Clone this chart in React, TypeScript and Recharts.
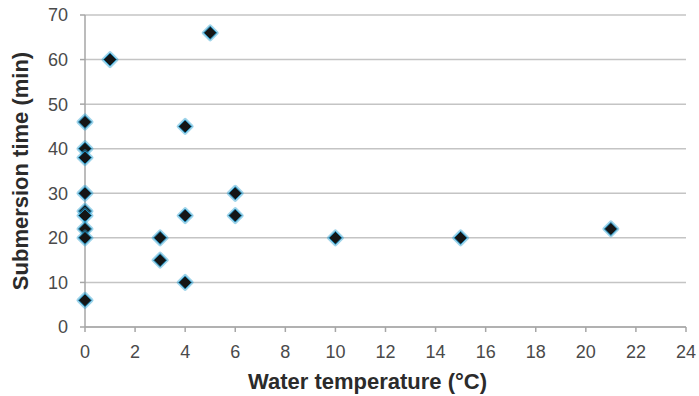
import { ScatterChart, Scatter, XAxis, YAxis, CartesianGrid, Label } from 'recharts';

// water temperature (°C) and submersion time (min) for each case
const temps = [0, 0, 0, 0, 0, 0, 0, 0, 0, 1, 3, 3, 4, 4, 4, 5, 6, 6, 10, 15, 21];
const times = [46, 40, 38, 30, 26, 25, 22, 20, 6, 60, 20, 15, 45, 25, 10, 66, 30, 25, 20, 20, 22];

const xTicks = [0, 2, 4, 6, 8, 10, 12, 14, 16, 18, 20, 22, 24];
const yTicks = [0, 10, 20, 30, 40, 50, 60, 70];

const data = temps.map((t, i) => ({ temp: t, time: times[i] }));

const tickStyle = { fontFamily: 'Liberation Sans, Arial, sans-serif', fontSize: 18, fill: '#4a4a4a' };
const titleStyle = { fontFamily: 'Liberation Sans, Arial, sans-serif', fontSize: 22, fontWeight: 'bold', fill: '#2b2b2b' };

function Diamond(props) {
    const { cx, cy } = props;
    const r = 6.5;
    const d = `M${cx},${cy - r}L${cx + r},${cy}L${cx},${cy + r}L${cx - r},${cy}Z`;
    return (
        <g>
            <path d={d} fill="none" stroke="#2a9fd0" strokeWidth={4} strokeOpacity={0.45} strokeLinejoin="round" />
            <path d={d} fill="#151515" stroke="#1f8fc0" strokeWidth={1} strokeLinejoin="round" />
        </g>
    );
}

export default function App() {
    return (
        <div style={{ position: 'absolute', left: 0, top: 0, width: 699, height: 396, background: '#fff' }}>
            <ScatterChart width={699} height={396} margin={{ top: 15, right: 13, bottom: 19, left: 25 }}>
                <CartesianGrid vertical={false} stroke="#c4c4c4" strokeWidth={1.5} />
                <XAxis
                    type="number"
                    dataKey="temp"
                    domain={[0, 24]}
                    ticks={xTicks}
                    interval={0}
                    height={50}
                    stroke="#a6a6a6"
                    strokeWidth={1.5}
                    tickSize={5}
                    tickMargin={13}
                    tick={tickStyle}
                >
                    <Label
                        value="Water temperature (°C)"
                        position="insideBottom"
                        offset={-12}
                        dx={-18}
                        style={titleStyle}
                    />
                </XAxis>
                <YAxis
                    type="number"
                    dataKey="time"
                    domain={[0, 70]}
                    ticks={yTicks}
                    interval={0}
                    width={60}
                    stroke="#a6a6a6"
                    strokeWidth={1.5}
                    tickSize={5}
                    tickMargin={12}
                    tick={tickStyle}
                >
                    <Label
                        value="Submersion time (min)"
                        angle={-90}
                        position="insideLeft"
                        offset={-5}
                        style={{ ...titleStyle, textAnchor: 'middle' }}
                    />
                </YAxis>
                <Scatter data={data} shape={<Diamond />} isAnimationActive={false} />
            </ScatterChart>
        </div>
    );
}
